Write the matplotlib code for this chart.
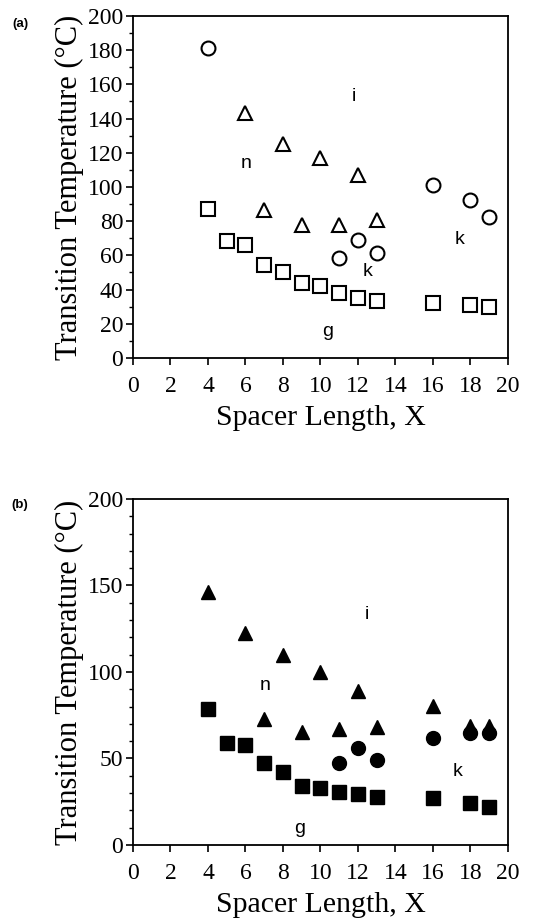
import matplotlib
matplotlib.use("Agg")
import matplotlib.pyplot as plt
from matplotlib.ticker import MultipleLocator

# --- данные панели (a) ---
a_sq_x = [4, 5, 6, 7, 8, 9, 10, 11, 12, 13, 16, 18, 19]
a_sq_y = [87, 68.6, 66, 54.4, 50.5, 43.7, 42, 38.2, 35.3, 33.3, 32, 31, 30]
a_tri_x = [6, 7, 8, 9, 10, 11, 12, 13]
a_tri_y = [143, 86.5, 125, 78, 117, 78, 107, 80.7]
a_circ_x = [4, 11, 12, 13, 16, 18, 19]
a_circ_y = [181, 58.3, 69, 61.2, 101, 92.4, 82.6]
a_labels = ["i", "n", "k", "k", "g"]
a_label_x = [11.8, 6.06, 17.4, 12.5, 10.4]
a_label_y = [153, 114, 69, 50.5, 15.4]

# --- данные панели (b) ---
b_sq_x = [4, 5, 6, 7, 8, 9, 10, 11, 12, 13, 16, 18, 19]
b_sq_y = [78.4, 58.8, 57.8, 47.2, 42.4, 34, 33, 30.8, 29.5, 27.5, 27, 24.5, 22]
b_tri_x = [4, 6, 7, 8, 9, 10, 11, 12, 13, 16, 18, 19]
b_tri_y = [146.4, 122.7, 73, 110, 65.5, 100, 67, 89, 68.4, 80.5, 69, 68.5]
b_circ_x = [11, 12, 13, 16, 18, 19]
b_circ_y = [47.2, 56, 49, 61.7, 64.5, 64.5]
b_labels = ["i", "n", "k", "g"]
b_label_x = [12.5, 7.04, 17.3, 8.9]
b_label_y = [133, 92, 42.4, 9.6]

serif = "Liberation Serif"
sans = "Liberation Sans"

fig = plt.figure(figsize=(5.4, 9.24), dpi=100)
ax_a = fig.add_axes([0.2463, 0.6126, 0.6944, 0.3701])
ax_b = fig.add_axes([0.2463, 0.0855, 0.6944, 0.3745])


def style_axes(ax, ymajor, yminor):
    ax.set_xlim(0, 20)
    ax.set_ylim(0, 200)
    ax.xaxis.set_major_locator(MultipleLocator(2))
    ax.yaxis.set_major_locator(MultipleLocator(ymajor))
    ax.yaxis.set_minor_locator(MultipleLocator(yminor))
    ax.tick_params(which="major", direction="out", length=5, width=1.2,
                   labelsize=17, pad=2)
    ax.tick_params(axis="x", which="major", pad=8)
    ax.tick_params(which="minor", direction="out", length=3, width=1.0)
    for lab in ax.get_xticklabels() + ax.get_yticklabels():
        lab.set_family(serif)
    for sp in ax.spines.values():
        sp.set_linewidth(1.3)
    ax.set_xlabel("Spacer Length, X", family=serif, fontsize=21.5, labelpad=6)
    ax.set_ylabel("Transition Temperature (°C)", family=serif, fontsize=22,
                  labelpad=3)


# --- панель (a): пустые маркеры ---
ax_a.plot(a_sq_x, a_sq_y, "s", ms=9.5, mfc="white", mec="black", mew=1.5)
ax_a.plot(a_tri_x, a_tri_y, "^", ms=9.5, mfc="white", mec="black", mew=1.5)
ax_a.plot(a_circ_x, a_circ_y, "o", ms=10, mfc="white", mec="black", mew=1.5)
for t, lx, ly in zip(a_labels, a_label_x, a_label_y):
    ax_a.text(lx, ly, t, family=sans, fontsize=14, ha="center", va="center")
style_axes(ax_a, 20, 10)

# --- панель (b): закрашенные маркеры ---
ax_b.plot(b_sq_x, b_sq_y, "s", ms=10.5, color="black")
ax_b.plot(b_tri_x, b_tri_y, "^", ms=10, color="black")
ax_b.plot(b_circ_x, b_circ_y, "o", ms=10, color="black")
for t, lx, ly in zip(b_labels, b_label_x, b_label_y):
    ax_b.text(lx, ly, t, family=sans, fontsize=14, ha="center", va="center")
style_axes(ax_b, 50, 10)

fig.text(20 / 540, 1 - 24 / 924, "(a)", family=sans, fontsize=9.5,
         fontweight="bold", ha="center", va="center")
fig.text(20 / 540, 1 - 505 / 924, "(b)", family=sans, fontsize=9.5,
         fontweight="bold", ha="center", va="center")

fig.savefig("out.png", dpi=100)
